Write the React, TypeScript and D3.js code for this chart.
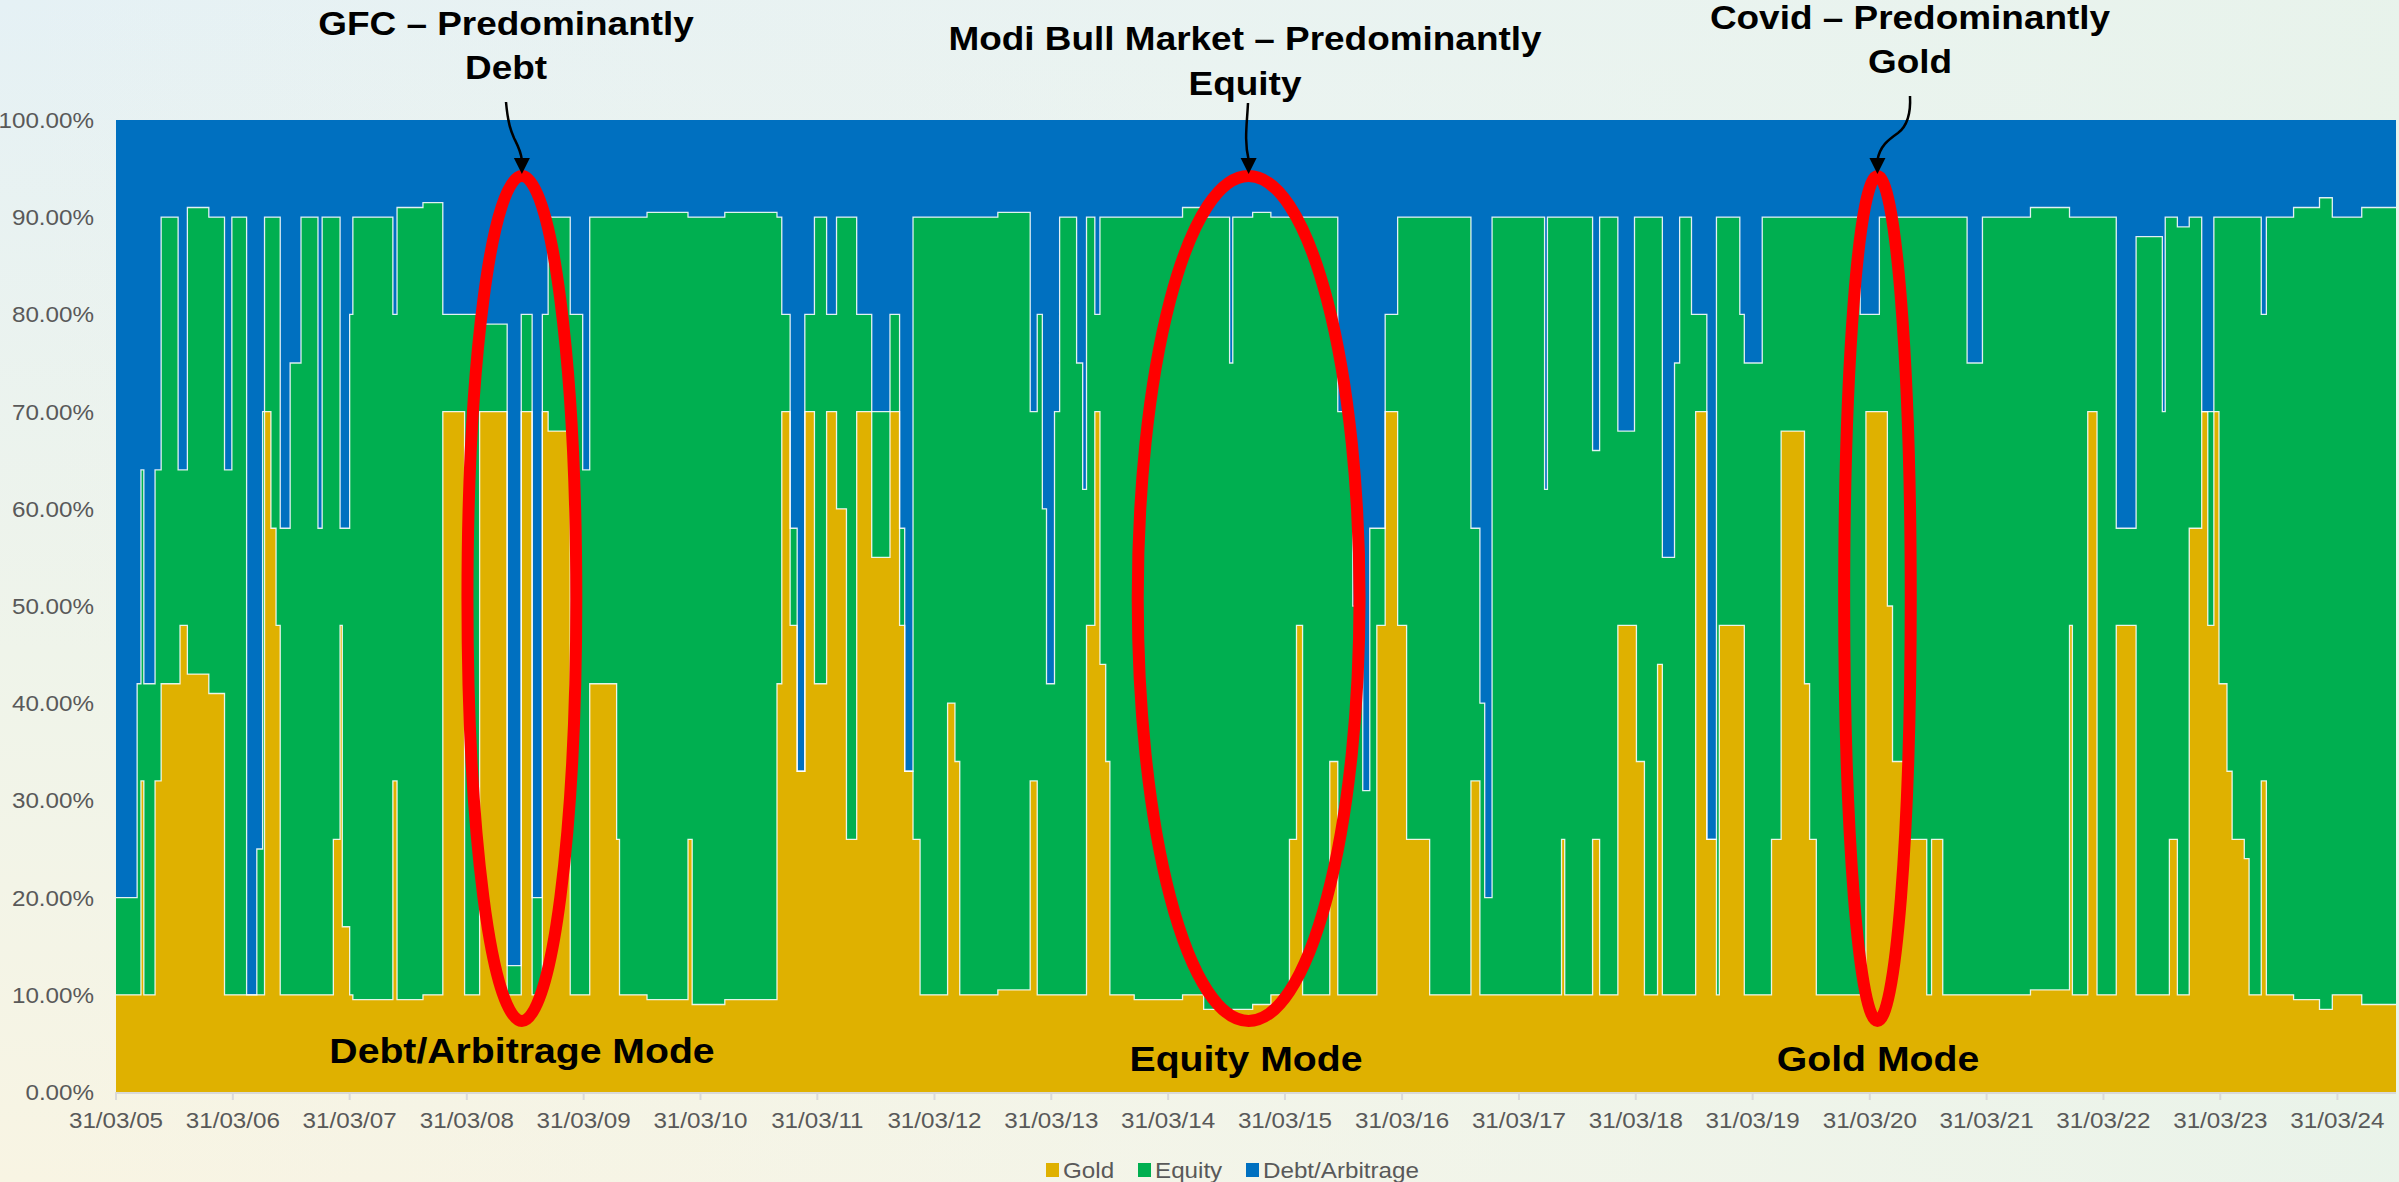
import React from "react";
import * as d3 from "d3";

const W = 2399;
const H = 1182;

// Regime change dates (each value holds until the next date)
const dates = [
  "2005-03-31","2005-06-05","2005-06-17","2005-06-26","2005-07-31","2005-08-19","2005-10-11","2005-10-17","2005-11-09","2006-01-15",
  "2006-03-05","2006-03-28","2006-05-13","2006-06-14","2006-07-02","2006-07-08","2006-07-28","2006-08-13","2006-08-26","2006-09-26",
  "2006-10-30","2006-12-22","2007-01-04","2007-02-08","2007-03-01","2007-03-08","2007-03-31","2007-04-10","2007-08-13","2007-08-26",
  "2007-11-15","2008-01-16","2008-03-24","2008-05-10","2008-08-04","2008-09-17","2008-10-21","2008-11-22","2008-12-10","2009-02-17",
  "2009-03-28","2009-04-19","2009-07-12","2009-07-21","2009-10-15","2010-02-20","2010-03-05","2010-06-15","2010-11-25","2010-12-10",
  "2011-01-05","2011-01-27","2011-02-20","2011-03-22","2011-04-29","2011-05-30","2011-06-30","2011-08-01","2011-09-17","2011-11-13",
  "2011-12-13","2011-12-29","2012-01-24","2012-02-15","2012-05-11","2012-06-03","2012-06-18","2012-10-15","2013-01-24","2013-02-15",
  "2013-03-03","2013-03-16","2013-04-10","2013-04-26","2013-06-18","2013-07-07","2013-07-19","2013-08-14","2013-08-30","2013-09-17",
  "2013-09-30","2013-12-15","2014-05-15","2014-07-20","2014-10-09","2014-10-19","2014-12-20","2015-02-15","2015-04-14","2015-05-06",
  "2015-05-25","2015-08-18","2015-09-12","2015-10-29","2015-11-29","2015-12-21","2016-01-12","2016-02-07","2016-03-17","2016-04-14",
  "2016-06-25","2016-11-01","2016-11-29","2016-12-14","2017-01-06","2017-06-19","2017-06-28","2017-08-11","2017-08-21","2017-11-16",
  "2017-12-08","2018-02-03","2018-03-27","2018-04-02","2018-04-27","2018-06-07","2018-06-22","2018-07-30","2018-08-15","2018-09-21",
  "2018-10-04","2018-11-08","2018-12-08","2018-12-17","2019-02-19","2019-03-05","2019-04-30","2019-05-29","2019-06-28","2019-09-09",
  "2019-09-25","2019-10-16","2020-03-01","2020-03-19","2020-04-30","2020-05-25","2020-06-10","2020-08-02","2020-09-25","2020-10-10",
  "2020-11-14","2021-01-29","2021-03-18","2021-08-15","2021-12-15","2021-12-24","2022-02-10","2022-03-11","2022-05-10","2022-07-11",
  "2022-10-01","2022-10-10","2022-10-23","2022-11-17","2022-12-24","2023-02-01","2023-02-20","2023-03-11","2023-03-27","2023-04-21",
  "2023-05-07","2023-06-14","2023-06-29","2023-08-06","2023-08-22","2023-11-15","2024-02-04","2024-03-15","2024-06-15","2024-09-30"
];

const gold = [
  10,10,32,10,32,42,42,48,43,41,
  10,10,10,10,10,70,58,48,10,10,
  10,10,10,26,48,17,10,9.5,32,9.5,
  10,70,10,70,10,70,10,70,68,10,
  10,42,26,10,9.5,26,9,9.5,42,70,
  48,33,70,42,70,60,26,70,55,70,
  48,33,26,10,40,34,10,10.5,32,10,
  10,10,10,10,10,10,48,70,44,34,
  10,9.5,10,8.5,8,8.5,9,10,26,48,
  10,34,10,10,10,10,48,70,48,26,
  10,32,10,10,10,10,10,26,10,26,
  10,48,48,34,10,44,10,10,10,10,
  70,26,10,48,48,10,10,26,68,42,
  26,10,10,70,70,50,34,26,10,26,
  10,10,10,10.5,48,10,70,10,48,10,
  10,10,26,10,58,70,48,70,42,33,
  26,24,10,32,10,9.5,8.5,10,9,9
];

const equity = [
  10,32,32,32,32,48,22,16,48,49,
  54,80,0,15,60,20,32,42,48,65,
  80,48,80,64,10,41,70,80.5,48,81.5,
  81.5,10,70,9,3,10,10,10,22,70,
  54,48,64,80,81,64,81,81,48,10,
  10,0,10,48,10,30,64,10,15,10,
  10,0,64,80,50,56,80,80,38,70,
  50,32,60,80,65,52,42,10,46,56,
  80,80.5,81,81.5,67,81.5,81.5,80,64,42,
  80,56,60,40,21,48,10,10,42,64,
  80,26,30,10,80,52,80,64,80,40,
  80,20,42,56,80,46,45,65,80,70,
  10,0,80,42,32,65,80,64,22,48,
  64,80,70,10,20,40,56,64,80,64,
  80,65,80,80.5,42,80,20,80,10,78,
  60,80,64,79,32,0,22,20,48,57,
  64,66,80,48,80,81.5,83.5,80,82,82
];

const debt = [
  80,58,36,58,36,10,36,36,9,10,
  36,10,90,75,30,10,10,10,42,25,
  10,42,10,10,42,42,20,10,20,9,
  8.5,20,20,21,87,20,80,20,10,20,
  36,10,10,10,9.5,10,10,9.5,10,20,
  42,67,20,10,20,10,10,20,30,20,
  42,67,10,10,10,10,10,9.5,30,20,
  40,58,30,10,25,38,10,20,10,10,
  10,10,9,10,25,10,9.5,10,10,10,
  10,10,30,50,69,42,42,20,10,10,
  10,42,60,80,10,38,10,10,10,34,
  10,32,10,10,10,10,45,25,10,20,
  20,74,10,10,20,25,10,10,10,10,
  10,10,20,20,10,10,10,10,10,10,
  10,25,10,9,10,10,10,10,42,12,
  30,10,10,11,10,30,30,10,10,10,
  10,10,10,20,10,9,8,10,9,9
];

const seriesKeys = ["gold", "equity", "debt"];
const seriesNames = ["Gold", "Equity", "Debt/Arbitrage"];
const seriesColors = ["#DFB100", "#00AF50", "#0070C0"];

const xTickDates = [
  "2005-03-31","2006-03-31","2007-03-31","2008-03-31","2009-03-31","2010-03-31","2011-03-31",
  "2012-03-31","2013-03-31","2014-03-31","2015-03-31","2016-03-31","2017-03-31","2018-03-31",
  "2019-03-31","2020-03-31","2021-03-31","2022-03-31","2023-03-31","2024-03-31"
];
const xTickLabels = [
  "31/03/05","31/03/06","31/03/07","31/03/08","31/03/09","31/03/10","31/03/11",
  "31/03/12","31/03/13","31/03/14","31/03/15","31/03/16","31/03/17","31/03/18",
  "31/03/19","31/03/20","31/03/21","31/03/22","31/03/23","31/03/24"
];
const yTicks = [0, 0.1, 0.2, 0.3, 0.4, 0.5, 0.6, 0.7, 0.8, 0.9, 1.0];
const yTickLabels = ["0.00%","10.00%","20.00%","30.00%","40.00%","50.00%","60.00%","70.00%","80.00%","90.00%","100.00%"];

const titleLines = [
  ["GFC – Predominantly", "Debt"],
  ["Modi Bull Market – Predominantly", "Equity"],
  ["Covid – Predominantly", "Gold"]
];
const modeLabels = ["Debt/Arbitrage Mode", "Equity Mode", "Gold Mode"];
// periods circled by the red ellipses
const highlightStart = ["2008-04-02", "2013-12-26", "2020-01-11"];
const highlightEnd = ["2009-03-08", "2015-11-19", "2020-08-06"];

const FONT = "'Liberation Sans', Arial, Helvetica, sans-serif";
const STRETCH = 1.1;

const parse = d3.timeParse("%Y-%m-%d");

export default function App() {
  const left = 116, right = 2396, top = 120, bottom = 1092;
  const start = parse("2005-03-31") as Date;
  const end = parse("2024-09-30") as Date;
  const x = d3.scaleTime().domain([start, end]).range([left, right]);
  const y = d3.scaleLinear().domain([0, 1]).range([bottom, top]);

  const rows = dates.map((d, i) => ({
    date: parse(d) as Date,
    gold: gold[i] / 100,
    equity: equity[i] / 100,
    debt: debt[i] / 100,
  }));
  const stack = d3.stack<any>().keys(seriesKeys).offset(d3.stackOffsetExpand);
  const series = stack(rows);
  const area = d3
    .area<any>()
    .x((d) => x(d.data.date))
    .y0((d) => y(d[0]))
    .y1((d) => y(d[1]))
    .curve(d3.curveStepAfter);
  const edge = d3
    .line<any>()
    .x((d) => x(d.data.date))
    .y((d) => y(d[1]))
    .curve(d3.curveStepAfter);

  const ellipses = highlightStart.map((s, i) => {
    const x0 = x(parse(s) as Date);
    const x1 = x(parse(highlightEnd[i]) as Date);
    return { cx: (x0 + x1) / 2, rx: (x1 - x0) / 2 };
  });
  const ellTopY = 176;
  const ellBotY = 1021;
  const ellCy = (ellTopY + ellBotY) / 2;
  const ellRy = (ellBotY - ellTopY) / 2;

  const titleBase = [[35, 79], [50, 95], [29, 73]];
  const titleX = [506, 1245, 1910];
  const modeX = [522, 1246, 1878];
  const modeY = [1063, 1071, 1071];

  const c0 = ellipses[0].cx, c1 = ellipses[1].cx, c2 = ellipses[2].cx;
  const arrowPaths = [
    `M506,102 C508,124 511,131 514,138 C518,146 ${c0 - 1},151 ${c0},160`,
    `M1248,103 C1247,124 1244,140 ${c1},160`,
    `M1910,96 C1911,115 1906,127 1898,133 C1888,140 1880,146 ${c2},160`,
  ];
  const arrowTipX = [c0, c1, c2];

  const legendX = [1046, 1138, 1246];

  return (
    <svg width={W} height={H} style={{ position: "absolute", left: 0, top: 0 }}>
      <defs>
        <linearGradient id="bgV" x1="0" y1="0" x2="0" y2="1">
          <stop offset="0" stopColor="#e5f1f5" />
          <stop offset="0.55" stopColor="#eff4ea" />
          <stop offset="1" stopColor="#f8f4e3" />
        </linearGradient>
        <linearGradient id="bgH" x1="0" y1="0" x2="1" y2="0">
          <stop offset="0" stopColor="#f3f4e8" stopOpacity="0" />
          <stop offset="0.5" stopColor="#eef5ee" stopOpacity="0.5" />
          <stop offset="1" stopColor="#e8f3ea" stopOpacity="0.9" />
        </linearGradient>
      </defs>
      <rect x={0} y={0} width={W} height={H} fill="url(#bgV)" />
      <rect x={0} y={0} width={W} height={H} fill="url(#bgH)" />

      {series.map((s, i) => (
        <path key={seriesKeys[i]} d={area(s) || ""} fill={seriesColors[i]} />
      ))}
      {series.slice(0, 2).map((s, i) => (
        <path key={"e" + i} d={edge(s) || ""} fill="none" stroke="#ffffff" strokeWidth={1.3} strokeOpacity={0.85} />
      ))}

      <line x1={left} x2={right} y1={bottom + 1} y2={bottom + 1} stroke="#d9d9d9" strokeWidth={2} />
      {xTickDates.map((d, i) => {
        const xx = x(parse(d) as Date);
        return (
          <g key={d}>
            <line x1={xx} x2={xx} y1={bottom} y2={bottom + 8} stroke="#d9d9d9" strokeWidth={2} />
            <text
              transform={`translate(${xx},1128) scale(${STRETCH},1)`}
              textAnchor="middle"
              fontFamily={FONT}
              fontSize={22}
              fill="#595959"
            >
              {xTickLabels[i]}
            </text>
          </g>
        );
      })}

      {yTicks.map((t, i) => (
        <text
          key={t}
          transform={`translate(94,${y(t) + 8}) scale(${STRETCH},1)`}
          textAnchor="end"
          fontFamily={FONT}
          fontSize={22}
          fill="#595959"
        >
          {yTickLabels[i]}
        </text>
      ))}

      {ellipses.map((e, i) => (
        <ellipse key={i} cx={e.cx} cy={ellCy} rx={e.rx} ry={ellRy} fill="none" stroke="#ff0000" strokeWidth={12} />
      ))}

      {arrowPaths.map((p, i) => (
        <g key={i}>
          <path d={p} fill="none" stroke="#000" strokeWidth={2.5} />
          <path
            d={`M${arrowTipX[i] - 8},158 L${arrowTipX[i] + 8},158 L${arrowTipX[i]},174 Z`}
            fill="#000"
          />
        </g>
      ))}

      {titleLines.map((lines, i) =>
        lines.map((ln, j) => (
          <text
            key={i + "-" + j}
            transform={`translate(${titleX[i]},${titleBase[i][j]}) scale(1.12,1)`}
            textAnchor="middle"
            fontFamily={FONT}
            fontWeight="bold"
            fontSize={33}
            fill="#000"
          >
            {ln}
          </text>
        ))
      )}

      {modeLabels.map((m, i) => (
        <text
          key={m}
          transform={`translate(${modeX[i]},${modeY[i]}) scale(1.12,1)`}
          textAnchor="middle"
          fontFamily={FONT}
          fontWeight="bold"
          fontSize={35}
          fill="#000"
        >
          {m}
        </text>
      ))}

      {seriesNames.map((n, i) => (
        <g key={n}>
          <rect x={legendX[i]} y={1163} width={13} height={14} fill={seriesColors[i]} />
          <text
            transform={`translate(${legendX[i] + 17},1178) scale(${STRETCH},1)`}
            fontFamily={FONT}
            fontSize={22}
            fill="#595959"
          >
            {n}
          </text>
        </g>
      ))}
    </svg>
  );
}
